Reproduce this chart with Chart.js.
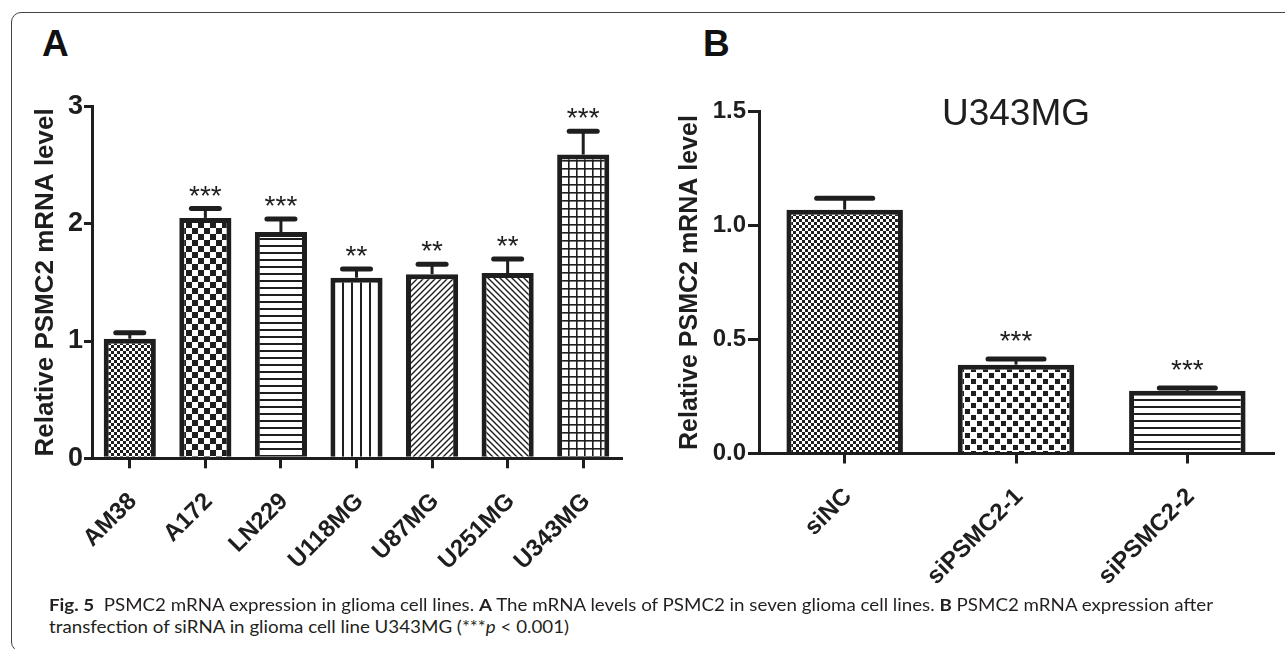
<!DOCTYPE html>
<html><head><meta charset="utf-8">
<script src="https://cdn.jsdelivr.net/npm/chart.js@4.4.1/dist/chart.umd.min.js"></script>
<style>
body{margin:0;width:1285px;height:649px;overflow:hidden;background:#fff;position:relative;font-family:'Liberation Sans',Arial,sans-serif}
#frame{position:absolute;left:11px;top:12px;width:1400px;height:638px;border:1.3px solid #444;border-radius:10px}
canvas{position:absolute;top:0}
#cA{left:0} #cB{left:640px}
.panel{position:absolute;top:25px;font:bold 37px 'Liberation Sans',Arial,sans-serif;line-height:1;color:#111}
.cap{position:absolute;left:49px;font:17px Lato,'Open Sans',sans-serif;line-height:20px;color:#231f20;white-space:nowrap;transform-origin:0 0}
</style></head>
<body>
<div id="frame"></div>
<div class="panel" style="left:42px">A</div>
<div class="panel" style="left:703px">B</div>
<canvas id="cA" width="640" height="610"></canvas>
<canvas id="cB" width="645" height="610"></canvas>
<div class="cap" id="cap1" style="top:595px"><b>Fig. 5</b>&nbsp; PSMC2 mRNA expression in glioma cell lines. <b>A</b> The mRNA levels of PSMC2 in seven glioma cell lines. <b>B</b> PSMC2 mRNA expression after</div>
<div class="cap" id="cap2" style="top:617px">transfection of siRNA in glioma cell line U343MG (***<i>p</i> &lt; 0.001)</div>
<script>
// panel A: seven glioma lines
const labelsA = ['AM38','A172','LN229','U118MG','U87MG','U251MG','U343MG'];
const meanA = [1.02, 2.05, 1.93, 1.54, 1.57, 1.58, 2.59];
const semA = [0.05, 0.08, 0.11, 0.075, 0.085, 0.12, 0.20];
const starsA = ['', '***', '***', '**', '**', '**', '***'];
const ticksA = [0, 1, 2, 3];

// panel B: siRNA in U343MG
const labelsB = ['siNC','siPSMC2-1','siPSMC2-2'];
const meanB = [1.07, 0.39, 0.275];
const semB = [0.05, 0.025, 0.012];
const starsB = ['', '***', '***'];
const ticksB = [0, 0.5, 1.0, 1.5];

const INK = '#1e1e1e';
const FONT = "'Liberation Sans', Arial, sans-serif";

// hatch tiles
function tile(w, h, draw){
  const c = document.createElement('canvas'); c.width = w; c.height = h;
  const g = c.getContext('2d');
  g.fillStyle = '#fff'; g.fillRect(0,0,w,h);
  g.fillStyle = INK; g.strokeStyle = INK;
  draw(g, w, h);
  return document.createElement('canvas').getContext('2d').createPattern(c, 'repeat');
}
const P = {
  fine: tile(6,6,g=>{ g.fillRect(0,0,3,3); g.fillRect(3,3,3,3); }),
  checker: tile(12,12,g=>{ g.fillRect(0,0,6,6); g.fillRect(6,6,6,6); }),
  dots: tile(12,12,g=>{ g.fillRect(1,1,5,5); g.fillRect(7,7,5,5); }),
  hlines: tile(7,7,g=>{ g.fillRect(0,0,7,2); }),
  vlines: tile(9,9,g=>{ g.fillRect(0,0,2,9); }),
  fwd: tile(6,6,(g,w,h)=>{ g.lineWidth=1.4; g.beginPath(); g.moveTo(0,h); g.lineTo(w,0); g.moveTo(-1,1); g.lineTo(1,-1); g.moveTo(w-1,h+1); g.lineTo(w+1,h-1); g.stroke(); }),
  back: tile(6,6,(g,w,h)=>{ g.lineWidth=1.4; g.beginPath(); g.moveTo(0,0); g.lineTo(w,h); g.moveTo(-1,h-1); g.lineTo(1,h+1); g.moveTo(w-1,-1); g.lineTo(w+1,1); g.stroke(); }),
  grid: tile(8,8,g=>{ g.fillRect(0,0,8,1.6); g.fillRect(0,0,1.6,8); })
};

// error bars, stars, rotated x labels, optional title
function overlay(labels, means, sems, stars, cap, starGap, title){
  return {
    id:'overlay',
    afterDatasetsDraw(chart){
      const {ctx, scales:{x, y}, chartArea} = chart;
      ctx.save();
      ctx.strokeStyle = INK; ctx.fillStyle = INK;
      means.forEach((v,i)=>{
        const px = x.getPixelForValue(i);
        const top = y.getPixelForValue(v), hi = y.getPixelForValue(v + sems[i]);
        ctx.lineCap = 'butt'; ctx.lineWidth = 3;
        ctx.beginPath(); ctx.moveTo(px, top); ctx.lineTo(px, hi); ctx.stroke();
        ctx.lineCap = 'round'; ctx.lineWidth = 5;
        ctx.beginPath(); ctx.moveTo(px - cap/2, hi); ctx.lineTo(px + cap/2, hi); ctx.stroke();
        if(stars[i]){
          ctx.font = '28px ' + FONT; ctx.textAlign = 'center'; ctx.textBaseline = 'alphabetic';
          ctx.fillText(stars[i], px, hi - starGap + 16);
        }
        ctx.save();
        ctx.translate(px + 8, x.top + 44); ctx.rotate(-Math.PI/4);
        ctx.font = 'bold 24px ' + FONT; ctx.textAlign = 'right'; ctx.textBaseline = 'alphabetic';
        ctx.fillText(labels[i], 0, 0);
        ctx.restore();
      });
      if(title){
        ctx.font = '37px ' + FONT; ctx.textAlign = 'center'; ctx.textBaseline = 'alphabetic';
        ctx.fillText(title, (chartArea.left + chartArea.right)/2, chartArea.top + 13);
      }
      ctx.restore();
    }
  };
}

function makeChart(id, o){
  return new Chart(document.getElementById(id), {
    type:'bar',
    data:{ labels:o.labels, datasets:[{ data:o.means, backgroundColor:o.fills,
      borderColor:INK, borderWidth:5,
      barPercentage:o.barPct, categoryPercentage:1 }] },
    options:{
      responsive:false, animation:false, events:[],
      layout:{ padding:{ left:0, top:o.top, right:o.right, bottom:0 } },
      plugins:{ legend:{display:false}, tooltip:{enabled:false} },
      scales:{
        x:{ offset:true,
          grid:{ display:true, drawOnChartArea:false, offset:false, tickLength:10, lineWidth:3, color:INK },
          border:{ display:true, width:3, color:INK },
          ticks:{ display:false },
          afterFit:s=>{ s.height = o.xh; } },
        y:{ min:o.ticks[0], max:o.ticks[o.ticks.length-1],
          afterBuildTicks:s=>{ s.ticks = o.ticks.map(v=>({value:v})); },
          grid:{ display:true, drawOnChartArea:false, tickLength:o.tl, lineWidth:3, color:INK },
          border:{ display:true, width:3, color:INK },
          ticks:{ color:INK, padding:o.tp, font:{ family:FONT, size:o.tickSize, weight:'bold' }, callback:o.fmt },
          title:{ display:true, text:'Relative PSMC2 mRNA level', color:INK, padding:{top:o.titlePad, bottom:0},
            font:{ family:FONT, size:o.titleSize, weight:'bold' } },
          afterFit:s=>{ s.width = o.yw; } }
      }
    },
    plugins:[overlay(o.labels, o.means, o.sems, o.stars, o.cap, o.starGap, o.title)]
  });
}

makeChart('cA', { labels:labelsA, means:meanA, sems:semA, stars:starsA, ticks:ticksA,
  fills:[P.fine, P.checker, P.hlines, P.vlines, P.fwd, P.back, P.grid],
  barPct:0.69, top:106.5, right:19, xh:151.7, yw:92, tl:8, tp:1, tickSize:27,
  fmt:v=>String(v), titlePad:30, titleSize:26, cap:28, starGap:20 });

makeChart('cB', { labels:labelsB, means:meanB, sems:semB, stars:starsB, ticks:ticksB,
  fills:[P.fine, P.dots, P.hlines],
  barPct:0.68, top:111.7, right:12, xh:156.5, yw:119, tl:11, tp:2, tickSize:24,
  fmt:v=>Number(v).toFixed(1), titlePad:35, titleSize:25, cap:56, starGap:25, title:'U343MG' });

// stretch caption lines to the printed width
function fitCaption(){
  const c1 = document.getElementById('cap1'), c2 = document.getElementById('cap2');
  const k = 1164 / c1.getBoundingClientRect().width;
  c1.style.transform = c2.style.transform = 'scaleX(' + k + ')';
}
fitCaption();
</script>
</body></html>
